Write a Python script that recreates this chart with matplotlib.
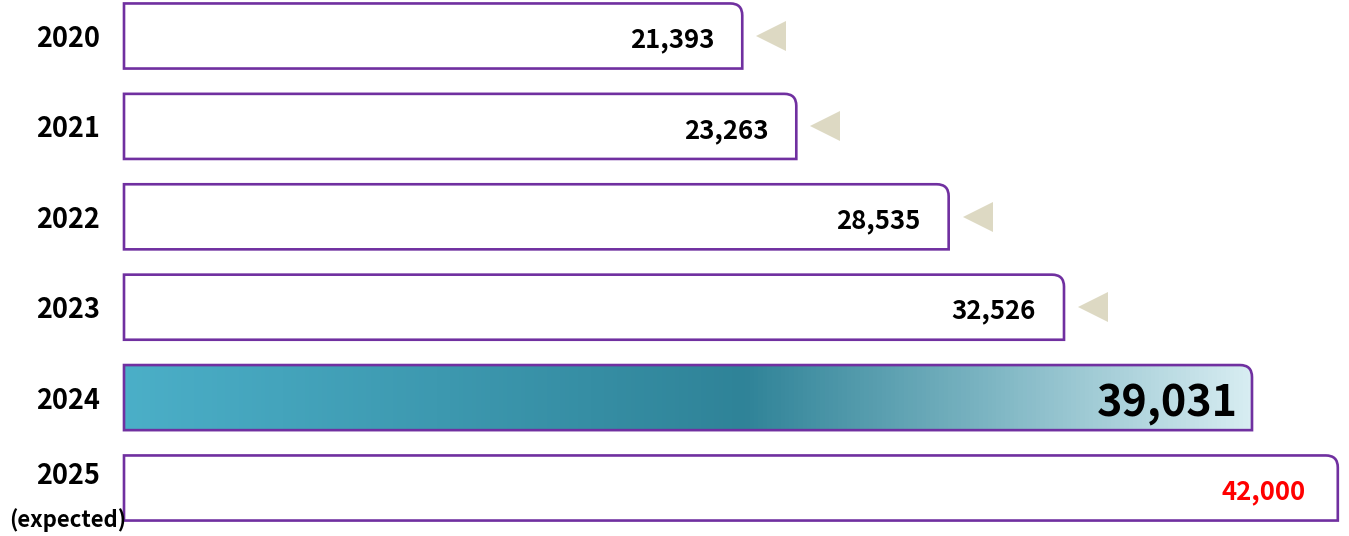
import numpy as np
import matplotlib
matplotlib.use("Agg")
import matplotlib.pyplot as plt
from matplotlib.path import Path
from matplotlib.patches import PathPatch
from matplotlib.colors import LinearSegmentedColormap

years = ["2020", "2021", "2022", "2023", "2024", "2025"]
values = [21393, 23263, 28535, 32526, 39031, 42000]
value_labels = ["21,393", "23,263", "28,535", "32,526", "39,031", "42,000"]
expected_note = "(expected)"
highlight_index = 4
forecast_index = 5

plt.rcParams['font.family'] = ['Noto Sans CJK KR', 'DejaVu Sans']

W, H, DPI = 1349, 536, 100
fig = plt.figure(figsize=(W / DPI, H / DPI), dpi=DPI)
ax = fig.add_axes([0, 0, 1, 1])
ax.set_axis_off()

px_per_unit = 0.0289
left_px = 124
xmin = -left_px / px_per_unit
xmax = (W - left_px) / px_per_unit
step_px = 90.4
ax.set_xlim(xmin, xmax)
ax.set_ylim(5 + (H - 488) / step_px, -36 / step_px)

purple = "#7030A0"
bar_h = 0.72
r_px = 12
rx = r_px / px_per_unit
ry = r_px / step_px
PT = 0.72  # points per pixel at 100 dpi


def bar_path(x1, yc, h):
    yt, yb = yc - h / 2, yc + h / 2
    verts = [(0, yb), (0, yt), (x1 - rx, yt), (x1, yt), (x1, yt + ry), (x1, yb), (0, yb)]
    codes = [Path.MOVETO, Path.LINETO, Path.LINETO, Path.CURVE3, Path.CURVE3,
             Path.LINETO, Path.CLOSEPOLY]
    return Path(verts, codes)


grad = LinearSegmentedColormap.from_list(
    "g", [(0, "#4BAFC8"), (0.55, "#2F8398"), (0.75, "#76B1BF"), (1.0, "#D8EDF2")])

for i, (v, lab) in enumerate(zip(values, value_labels)):
    p = bar_path(v, i, bar_h)
    if i == highlight_index:
        img = ax.imshow(np.linspace(0, 1, 256).reshape(1, -1), cmap=grad, aspect="auto",
                        extent=(0, v, i + bar_h / 2, i - bar_h / 2), zorder=1)
        ax.add_patch(PathPatch(p, facecolor="none", edgecolor=purple, lw=1.9, zorder=3))
        clip = PathPatch(p, facecolor="none", edgecolor="none")
        ax.add_patch(clip)
        img.set_clip_path(clip)
    else:
        ax.add_patch(PathPatch(p, facecolor="white", edgecolor=purple, lw=1.9, zorder=3))

    if i == highlight_index:
        ax.annotate(lab, (v, i), xytext=(-14 * PT, -5 * PT), textcoords="offset points",
                    ha="right", va="center", fontsize=31, fontweight="bold", color="black", zorder=5)
    elif i == forecast_index:
        ax.annotate(lab, (v, i), xytext=(-32 * PT, -4 * PT), textcoords="offset points",
                    ha="right", va="center", fontsize=18.5, fontweight="bold", color="#FF0000", zorder=5)
    else:
        ax.annotate(lab, (v, i), xytext=(-28 * PT, -4 * PT), textcoords="offset points",
                    ha="right", va="center", fontsize=18.5, fontweight="bold", color="black", zorder=5)
        ax.plot([v + 29 / px_per_unit], [i], marker="<", ms=22, color="#DDD9C3",
                markeredgewidth=0, zorder=4)

    dy = 12 * PT if i == forecast_index else -3 * PT
    ax.annotate(years[i], (0, i), xytext=(-24 * PT, dy), textcoords="offset points",
                ha="right", va="center", fontsize=19.5, fontweight="bold", color="black")

ax.annotate(expected_note, (0, forecast_index), xytext=(-56 * PT, -32 * PT), textcoords="offset points",
            ha="center", va="center", fontsize=16, fontweight="bold", color="black")

fig.savefig("out.png", dpi=DPI)
